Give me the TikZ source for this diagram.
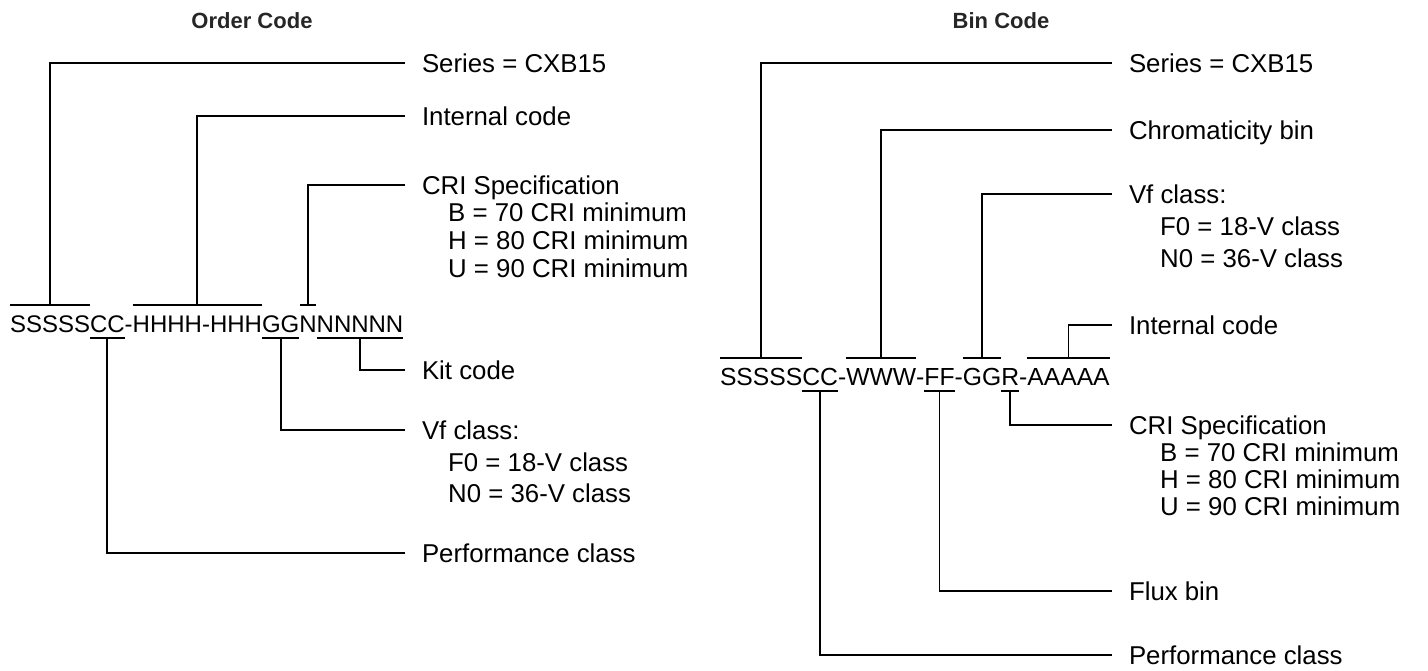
\documentclass[tikz,border=0pt]{standalone}
\usepackage{fontspec}
\setmainfont{Liberation Sans}
\usetikzlibrary{calc}
\begin{document}
\begin{tikzpicture}[x=1pt,y=-1pt,
  code/.style={inner sep=0pt, outer sep=0pt, anchor=base west, font=\fontsize{24}{28}\selectfont, text height=17pt, text depth=0pt},
  codeR/.style={code, font=\fontsize{24.7}{28}\selectfont},
  lbl/.style={inner xsep=0pt, inner ysep=0pt, outer ysep=0pt, outer xsep=17pt, anchor=west, font=\fontsize{25.8}{30}\selectfont, text height=18.4pt, text depth=0pt},
  sub/.style={inner sep=0pt, anchor=base west, font=\fontsize{25.8}{30}\selectfont},
  ttl/.style={font=\bfseries\fontsize{22}{26}\selectfont, inner sep=0pt, text=black!85},
  bar/.style={line width=1.8pt},
  lead/.style={line width=1.8pt},
]
\useasboundingbox (0,0) rectangle (1428,671);

% ---------------- Left: Order Code ----------------
\node[ttl] (t1) at (252,21) {Order Code};

\node[code] (S)  at (10,332) {SSSSS};
\node[code] (C)  at (S.base east) {CC};
\node[code] (d1) at (C.base east) {-};
\node[code] (H1) at (d1.base east) {HHHH};
\node[code] (d2) at (H1.base east) {-};
\node[code] (H2) at (d2.base east) {HHH};
\node[code] (G)  at (H2.base east) {GG};
\node[code] (N1) at (G.base east) {N};
\node[code] (N2) at (N1.base east) {NNNNN};

% over bars
\draw[bar] ([yshift=10pt]S.north west) -- ([yshift=10pt]S.north east);
\draw[bar] ([yshift=10pt]H1.north west) -- ([yshift=10pt]H2.north east);
\draw[bar] ([yshift=10pt,xshift=1pt]N1.north west) -- ([yshift=10pt,xshift=-1pt]N1.north east);
\coordinate (sTop) at ([yshift=10pt]S.north);
\coordinate (hTop) at ($([yshift=10pt]H1.north west)!0.5!([yshift=10pt]H2.north east)$);
\coordinate (nTop) at ([yshift=10pt]N1.north);
% under bars
\draw[bar] ([yshift=-6pt]C.south west) -- ([yshift=-6pt]C.south east);
\draw[bar] ([yshift=-6pt]G.south west) -- ([yshift=-6pt]G.south east);
\draw[bar] ([yshift=-6pt]N2.south west) -- ([yshift=-6pt]N2.south east);
\coordinate (cBot) at ([yshift=-6pt]C.south);
\coordinate (gBot) at ([yshift=-6pt]G.south);
\coordinate (nBot) at ([yshift=-6pt]N2.south);

% labels
\node[lbl] (lSer) at (405,63)  {Series = CXB15};
\node[lbl] (lInt) at (405,116) {Internal code};
\node[lbl] (lCri) at (405,185) {CRI Specification};
\node[sub] (lCriB) at (448,222) {B = 70 CRI minimum};
\node[sub] (lCriH) at (448,250) {H = 80 CRI minimum};
\node[sub] (lCriU) at (448,278) {U = 90 CRI minimum};
\node[lbl] (lKit) at (405,370) {Kit code};
\node[lbl] (lVf)  at (405,430) {Vf class:};
\node[sub] (lVfF) at (448,471) {F0 = 18-V class};
\node[sub] (lVfN) at (448,502) {N0 = 36-V class};
\node[lbl] (lPer) at (405,553) {Performance class};

\draw[lead] (sTop) |- (lSer.west);
\draw[lead] (hTop) |- (lInt.west);
\draw[lead] (nTop) |- (lCri.west);
\draw[lead] (nBot) |- (lKit.west);
\draw[lead] (gBot) |- (lVf.west);
\draw[lead] (cBot) |- (lPer.west);

% ---------------- Right: Bin Code ----------------
\node[ttl] (t2) at (1001,21) {Bin Code};

\node[codeR] (rS)  at (720,385) {SSSSS};
\node[codeR] (rC)  at (rS.base east) {CC};
\node[codeR] (re1) at (rC.base east) {-};
\node[codeR] (rW)  at (re1.base east) {WWW};
\node[codeR] (re2) at (rW.base east) {-};
\node[codeR] (rF)  at (re2.base east) {FF};
\node[codeR] (re3) at (rF.base east) {-};
\node[codeR] (rG)  at (re3.base east) {GG};
\node[codeR] (rR)  at (rG.base east) {R};
\node[codeR] (re4) at (rR.base east) {-};
\node[codeR] (rA)  at (re4.base east) {AAAAA};

\draw[bar] ([yshift=10pt]rS.north west) -- ([yshift=10pt]rS.north east);
\draw[bar] ([yshift=10pt]rW.north west) -- ([yshift=10pt]rW.north east);
\draw[bar] ([yshift=10pt]rG.north west) -- ([yshift=10pt]rG.north east);
\draw[bar] ([yshift=10pt]rA.north west) -- ([yshift=10pt]rA.north east);
\coordinate (rsTop) at ([yshift=10pt]rS.north);
\coordinate (rwTop) at ([yshift=10pt]rW.north);
\coordinate (rgTop) at ([yshift=10pt]rG.north);
\coordinate (raTop) at ([yshift=10pt]rA.north);
\draw[bar] ([yshift=-6pt]rC.south west) -- ([yshift=-6pt]rC.south east);
\draw[bar] ([yshift=-6pt]rF.south west) -- ([yshift=-6pt]rF.south east);
\draw[bar] ([yshift=-6pt]rR.south west) -- ([yshift=-6pt]rR.south east);
\coordinate (rcBot) at ([yshift=-6pt]rC.south);
\coordinate (rfBot) at ([yshift=-6pt]rF.south);
\coordinate (rrBot) at ([yshift=-6pt]rR.south);

\node[lbl] (rSer) at (1112,63)  {Series = CXB15};
\node[lbl] (rChr) at (1112,130) {Chromaticity bin};
\node[lbl] (rVf)  at (1112,194) {Vf class:};
\node[sub] (rVfF) at (1160,236) {F0 = 18-V class};
\node[sub] (rVfN) at (1160,268) {N0 = 36-V class};
\node[lbl] (rInt) at (1112,325) {Internal code};
\node[lbl] (rCri) at (1112,425) {CRI Specification};
\node[sub] (rCriB) at (1160,461) {B = 70 CRI minimum};
\node[sub] (rCriH) at (1160,488) {H = 80 CRI minimum};
\node[sub] (rCriU) at (1160,515) {U = 90 CRI minimum};
\node[lbl] (rFlx) at (1112,591) {Flux bin};
\node[lbl] (rPer) at (1112,655) {Performance class};

\draw[lead] (rsTop) |- (rSer.west);
\draw[lead] (rwTop) |- (rChr.west);
\draw[lead] (rgTop) |- (rVf.west);
\draw[lead] (raTop) |- (rInt.west);
\draw[lead] (rrBot) |- (rCri.west);
\draw[lead] (rfBot) |- (rFlx.west);
\draw[lead] (rcBot) |- (rPer.west);
\end{tikzpicture}
\end{document}
